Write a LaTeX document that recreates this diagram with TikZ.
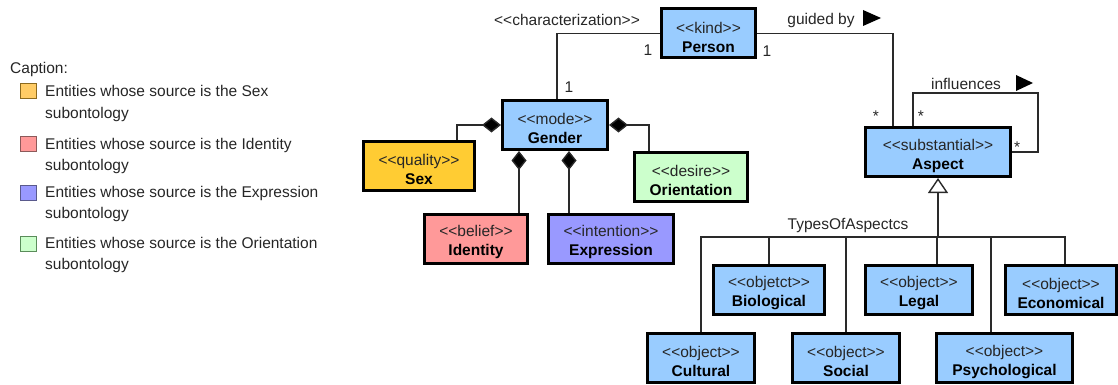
\documentclass[tikz,border=0pt]{standalone}
\usepackage{fontspec}
\setmainfont{Liberation Sans}
\usetikzlibrary{arrows.meta}
\definecolor{blueF}{HTML}{99CCFF}
\definecolor{sexF}{HTML}{FFCC33}
\definecolor{idF}{HTML}{FF9999}
\definecolor{exF}{HTML}{9999FF}
\definecolor{orF}{HTML}{CCFFCC}
\definecolor{stereo}{HTML}{262626}
\definecolor{lineC}{HTML}{2A2A2A}
\definecolor{legSexF}{HTML}{FFCC66}
\definecolor{legSexD}{HTML}{8C6A1E}
\definecolor{legIdD}{HTML}{8C5A5A}
\definecolor{legExD}{HTML}{5A5A8C}
\definecolor{legOrD}{HTML}{5A8C5A}
\newcommand{\st}[1]{<\kern0pt<#1>\kern0pt>}
\newcommand{\umltext}[2]{\rule{0pt}{18.7pt}{\color{stereo}#1}\\\textbf{#2}}
\tikzset{
  umlbox/.style={draw=black, line width=3pt, fill=blueF, inner sep=0pt, align=center,
    font=\fontsize{15.5}{19}\selectfont, minimum height=49pt},
  conn/.style={draw=lineC, line width=1.4pt},
  comp/.style={conn, {Diamond[length=19pt,width=15pt,fill=black]}-},
  gen/.style={draw=lineC, line width=2pt, {Triangle[open,length=15pt,width=20pt,line width=1.4pt,fill=white]}-},
  lbl/.style={inner sep=0pt, text=stereo, font=\fontsize{15.5}{19}\selectfont},
  legtxt/.style={inner sep=0pt, text=stereo, font=\fontsize{15.5}{19}\selectfont, anchor=base west},
  legsq/.style={line width=1pt, minimum width=16pt, minimum height=15pt, inner sep=0pt}
}
\begin{document}
\begin{tikzpicture}[x=1pt,y=-1pt]
\useasboundingbox (0,0) rectangle (1118,385);
% legend
\node[legtxt] (cap) at (10,74) {Caption:};
\node[legsq, fill=legSexF, draw=legSexD] (sq1) at (28.5,91) {};
\node[legtxt] (t1a) at (45,97) {Entities whose source is the Sex};
\node[legtxt] (t1b) at (45,118) {subontology};
\node[legsq, fill=idF, draw=legIdD] (sq2) at (28.5,144) {};
\node[legtxt] (t2a) at (45,149) {Entities whose source is the Identity};
\node[legtxt] (t2b) at (45,170) {subontology};
\node[legsq, fill=exF, draw=legExD] (sq3) at (28.5,193) {};
\node[legtxt] (t3a) at (45,197) {Entities whose source is the Expression};
\node[legtxt] (t3b) at (45,218) {subontology};
\node[legsq, fill=orF, draw=legOrD] (sq4) at (28.5,244) {};
\node[legtxt] (t4a) at (45,248) {Entities whose source is the Orientation};
\node[legtxt] (t4b) at (45,269) {subontology};
% boxes
\node[umlbox, minimum width=94pt] (person) at (708.5,33.5) {\umltext{\st{kind}}{Person}};
\node[umlbox, minimum width=105pt] (gender) at (555,125) {\umltext{\st{mode}}{Gender}};
\node[umlbox, minimum width=111pt, fill=sexF] (sex) at (419,165.5) {\umltext{\st{quality}}{Sex}};
\node[umlbox, minimum width=103pt, fill=idF] (identity) at (476,238.5) {\umltext{\st{belief}}{Identity}};
\node[umlbox, minimum width=125pt, fill=exF] (expression) at (611,238.5) {\umltext{\st{intention}}{Expression}};
\node[umlbox, minimum width=113pt, fill=orF] (orientation) at (691,177) {\umltext{\st{desire}}{Orientation}};
\node[umlbox, minimum width=145pt] (aspect) at (938,152) {\umltext{\st{substantial}}{Aspect}};
\node[umlbox, minimum width=111pt] (biological) at (769,289.5) {\umltext{\st{objetct}}{Biological}};
\node[umlbox, minimum width=107pt] (legal) at (919,289.5) {\umltext{\st{object}}{Legal}};
\node[umlbox, minimum width=111pt] (economical) at (1061,289.5) {\umltext{\st{object}}{Economical}};
\node[umlbox, minimum width=107pt] (cultural) at (701,358) {\umltext{\st{object}}{Cultural}};
\node[umlbox, minimum width=107pt] (social) at (846,358) {\umltext{\st{object}}{Social}};
\node[umlbox, minimum width=136pt] (psychological) at (1004.5,358) {\umltext{\st{object}}{Psychological}};
% associations
\draw[conn] (person.west) -| ([xshift=2pt]gender.north);
\draw[conn] (person.east) -| ([xshift=-45pt]aspect.north);
\coordinate (loopc) at (1038,93);
\draw[conn] ([xshift=-25pt]aspect.north) |- (loopc) |- (aspect.east);
% compositions
\draw[comp] (gender.west) -| ([xshift=38pt]sex.north);
\draw[comp] (gender.east) -| ([xshift=-42pt]orientation.north);
\draw[comp] ([xshift=-36pt]gender.south) -- ([xshift=-36pt]gender.south |- identity.north);
\draw[comp] ([xshift=14pt]gender.south) -- ([xshift=14pt]gender.south |- expression.north);
% generalization
\coordinate (hub) at (938,237);
\draw[conn] (hub) -| (cultural.north);
\draw[conn] (hub) -| (biological.north);
\draw[conn] (hub) -| (social.north);
\draw[conn] (hub) -| ([xshift=18pt]legal.north);
\draw[conn] (hub) -| ([xshift=-13.5pt]psychological.north);
\draw[conn] (hub) -| ([xshift=4pt]economical.north);
\draw[gen] (aspect.south) -- (hub);
% labels
\node[lbl] (charlbl) at (567,20) {\st{characterization}};
\node[lbl] (guidedlbl) at (821,20) {guided by};
\fill (863,10) -- (881,18) -- (863,26) -- cycle;
\node[lbl] (inflbl) at (966,84) {influences};
\fill (1016,75) -- (1033,83) -- (1016,91) -- cycle;
\node[lbl] (typeslbl) at (848,225) {TypesOfAspectcs};
\node[lbl] (m1) at (648,50) {1};
\node[lbl] (m2) at (569,87) {1};
\node[lbl] (m3) at (767,51) {1};
\node[lbl] (m4) at (876,116) {*};
\node[lbl] (m5) at (921,116) {*};
\node[lbl] (m6) at (1017,147) {*};
\end{tikzpicture}
\end{document}
